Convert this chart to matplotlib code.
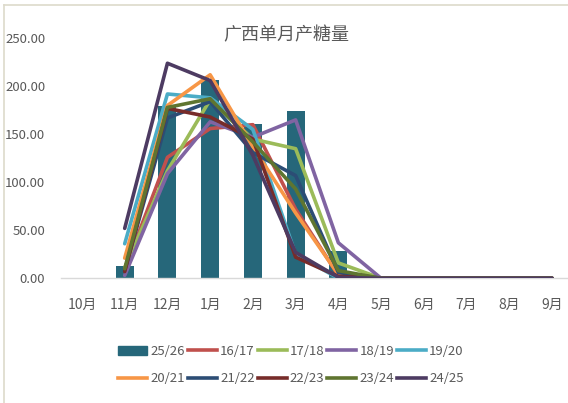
import numpy as np
import matplotlib
matplotlib.use('Agg')
import matplotlib.pyplot as plt
from matplotlib.lines import Line2D
from matplotlib.patches import Patch

plt.rcParams['font.family'] = ['Noto Sans CJK SC', 'DejaVu Sans']

months = ['10月', '11月', '12月', '1月', '2月', '3月', '4月', '5月', '6月', '7月', '8月', '9月']
nan = np.nan

# current season shown as bars
bar_label = '25/26'
bar_values = [nan, 13, 179, 207, 161, 174, 28, nan, nan, nan, nan, nan]

# earlier seasons as lines
seasons = ['16/17', '17/18', '18/19', '19/20', '20/21', '21/22', '22/23', '23/24', '24/25']
s1617 = [nan, 9, 126, 156, 160, 72, 3, 0, 0, 0, 0, 0]
s1718 = [nan, 11, 112, 186, 145, 135, 16, 0, 0, 0, 0, 0]
s1819 = [nan, 3, 109, 163, 147, 165, 37, 0, 0, 0, 0, 0]
s1920 = [nan, 36, 192, 188, 155, 25, 0, 0, 0, 0, 0, 0]
s2021 = [nan, 21, 180, 212, 137, 68, 4, 0, 0, 0, 0, 0]
s2122 = [nan, 8, 167, 184, 131, 107, 6, 0, 0, 0, 0, 0]
s2223 = [nan, 7, 177, 168, 145, 22, 2, 0, 0, 0, 0, 0]
s2324 = [nan, 10, 178, 187, 142, 93, 8, 0, 0, 0, 0, 0]
s2425 = [nan, 52, 224, 206, 128, 27, 1, 0, 0, 0, 0, 0]
line_data = [s1617, s1718, s1819, s1920, s2021, s2122, s2223, s2324, s2425]

bar_color = '#26677a'
line_colors = ['#C0504D', '#9BBB59', '#8064A2', '#4BACC6', '#F79646',
               '#2C4D75', '#772C2A', '#5F7530', '#4D3B62']
text_color = '#595959'

fig = plt.figure(figsize=(5.68, 4.03), dpi=100)
ax = fig.add_axes([60.6 / 568, (403 - 278.3) / 403, 512.8 / 568, 240 / 403])

x = np.arange(len(months))
ax.bar(x, bar_values, width=0.42, color=bar_color, zorder=2)
for vals, c in zip(line_data, line_colors):
    ax.plot(x, vals, color=c, lw=2.6, solid_capstyle='round', zorder=3)

ax.set_xlim(-0.5, len(months) - 0.5)
ax.set_ylim(0, 250)
ax.set_yticks(np.arange(0, 251, 50))
ax.set_yticklabels([f'{v:.2f}' for v in np.arange(0, 251, 50)])
ax.set_xticks(x)
ax.set_xticklabels(months)
ax.tick_params(axis='both', length=0, colors=text_color, labelsize=10)
ax.tick_params(axis='x', pad=14)
ax.tick_params(axis='y', pad=11, labelsize=9.5)
for s in ['top', 'right', 'left']:
    ax.spines[s].set_visible(False)
ax.spines['bottom'].set_color('#D9D9D9')
ax.spines['bottom'].set_linewidth(1.0)

fig.text(286 / 568, 1 - 35 / 403, '广西单月产糖量', ha='center', va='center',
         fontsize=13, color=text_color)

handles = [Patch(color=bar_color)] + [Line2D([], [], color=c, lw=2.6) for c in line_colors]
labels = [bar_label] + seasons
order = [0, 5, 1, 6, 2, 7, 3, 8, 4, 9]
fig.legend([handles[i] for i in order], [labels[i] for i in order],
           ncol=5, loc='center', bbox_to_anchor=(291 / 568, 1 - 365 / 403),
           frameon=False, fontsize=9.5, labelcolor=text_color,
           handlelength=2.2, handletextpad=0.25, columnspacing=0.2,
           labelspacing=1.1)

# chart border, partly cut off in the reference
fig.add_artist(Line2D([4 / 568, 4 / 568], [0, 1 - 5 / 403], color='#DDDACB', lw=1.2))
fig.add_artist(Line2D([4 / 568, 1], [1 - 5 / 403, 1 - 5 / 403], color='#DDDACB', lw=1.2))

fig.savefig('out.png', dpi=100)
